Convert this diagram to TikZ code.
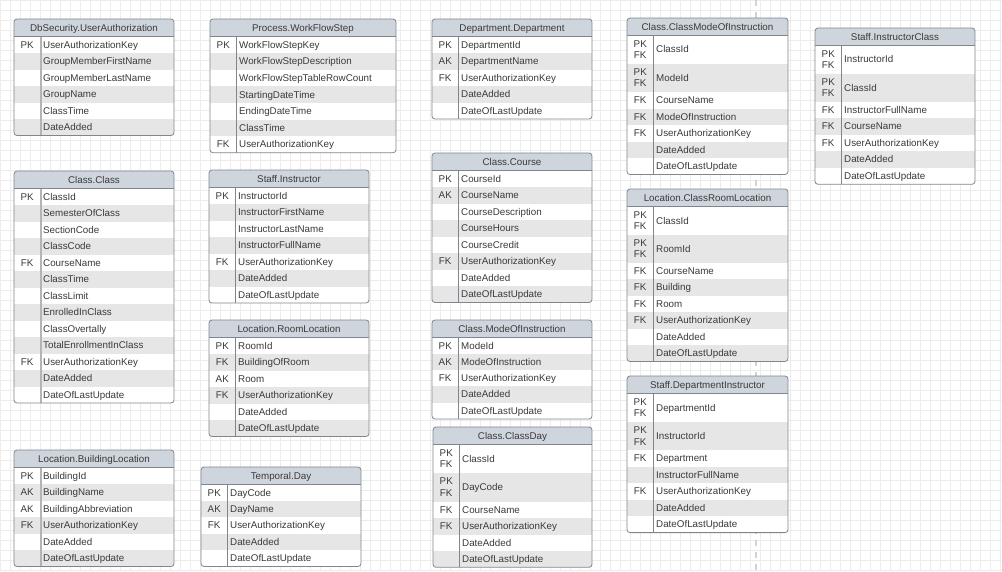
\documentclass[tikz,border=0pt]{standalone}
\usepackage{fontspec}
\setmainfont{Liberation Sans}
\definecolor{rowg}{HTML}{E6E6E6}
\definecolor{hdrc}{HTML}{CFD5DC}
\definecolor{bordc}{HTML}{80868D}
\definecolor{sepc}{HTML}{B4B4B4}
\definecolor{txtc}{HTML}{3A3A3A}
\definecolor{gridc}{HTML}{ECECEC}
\definecolor{pagec}{HTML}{D2D2D2}
\tikzset{
  border/.style={draw=bordc, line width=0.8pt},
  keytxt/.style={inner sep=0pt, align=center, text=txtc, font=\fontsize{9.8}{11.6}\selectfont},
  nametxt/.style={inner sep=0pt, anchor=base west, text=txtc, font=\fontsize{9.8}{11.6}\selectfont},
  titletxt/.style={inner sep=0pt, anchor=base, text=txtc, font=\fontsize{9.8}{11.6}\selectfont},
  sepline/.style={draw=bordc, line width=0.8pt},
  sepwide/.style={draw=sepc, line width=2pt},
  gridline/.style={draw=gridc, line width=0.6pt},
  pagebreak/.style={draw=pagec, line width=1.6pt, dash pattern=on 6pt off 6pt},
}
\def\erhead{17.5}
% \ertable[sepstyle]{id}{title}{x}{y}{width}{rows key/name/height}
\newcommand{\ertable}[7][sepline]{%
  \xdef\ertot{0}%
  \foreach \k/\n/\h in {#7}{\pgfmathsetmacro\ertmp{\ertot+\h}\xdef\ertot{\ertmp}}%
  \pgfmathsetmacro\erhd{#5+\erhead}%
  \pgfmathsetmacro\erbot{\erhd+\ertot}%
  \begin{scope}
    \clip[rounded corners=3pt] (#4,#5) rectangle (#4+#6,\erbot);
    \fill[hdrc] (#4,#5) rectangle (#4+#6,\erhd);
    \xdef\ercur{\erhd}%
    \foreach \k/\n/\h [count=\i] in {#7}{%
      \pgfmathsetmacro\erybot{\ercur+\h}%
      \ifodd\i\def\rowc{white}\else\def\rowc{rowg}\fi
      \fill[\rowc] (#4,\ercur) rectangle (#4+#6,\erybot);
      \node[keytxt] (#2-k\i) at ({#4+13.25},{(\ercur+\erybot)/2}) {\k};
      \node[nametxt] (#2-n\i) at ({#4+29},{(\ercur+\erybot)/2+3.4}) {\n};
      \xdef\ercur{\erybot}%
    }
  \end{scope}
  \draw[#1] (#4+26.5,\erhd) -- (#4+26.5,\erbot);
  \draw[border] (#4,\erhd) -- (#4+#6,\erhd);
  \draw[border, rounded corners=3pt] (#4,#5) rectangle (#4+#6,\erbot);
  \node[titletxt] (#2) at ({#4+#6/2},{#5+\erhead/2+3.4}) {#3};
}
\begin{document}
\begin{tikzpicture}[x=1pt,y=-1pt]
\fill[white] (0,0) rectangle (1002,571);
\useasboundingbox (0,0) rectangle (1002,571);
\foreach \gx in {0,10,...,1000} {\draw[gridline] (\gx,0) -- (\gx,571);}
\foreach \gy in {0,10,...,570} {\draw[gridline] (0,\gy) -- (1002,\gy);}
\coordinate (pbtop) at (756,0);
\coordinate (pbbot) at (756,571);
\draw[pagebreak] (pbtop) -- (pbbot);

\ertable[sepwide]{ua}{DbSecurity.UserAuthorization}{14}{19}{160}{PK/UserAuthorizationKey/16.5,{}/GroupMemberFirstName/16.5,{}/GroupMemberLastName/16.5,{}/GroupName/16.5,{}/ClassTime/16.5,{}/DateAdded/16.5}

\ertable{wfs}{Process.WorkFlowStep}{210}{19}{186}{PK/WorkFlowStepKey/16.6,{}/WorkFlowStepDescription/16.6,{}/WorkFlowStepTableRowCount/16.6,{}/StartingDateTime/16.6,{}/EndingDateTime/16.6,{}/ClassTime/16.6,FK/UserAuthorizationKey/16.6}

\ertable{dept}{Department.Department}{432}{19}{160}{PK/DepartmentId/16.5,AK/DepartmentName/16.5,FK/UserAuthorizationKey/16.5,{}/DateAdded/16.5,{}/DateOfLastUpdate/16.5}

\ertable{cmoi}{Class.ClassModeOfInstruction}{627}{18}{161}{{PK\\FK}/ClassId/28,{PK\\FK}/ModeId/28.5,FK/CourseName/16.5,FK/ModeOfInstruction/16.5,FK/UserAuthorizationKey/16.5,{}/DateAdded/16.5,{}/DateOfLastUpdate/16.5}

\ertable{ic}{Staff.InstructorClass}{815}{28}{160}{{PK\\FK}/InstructorId/28,{PK\\FK}/ClassId/28.3,FK/InstructorFullName/16.5,FK/CourseName/16.5,FK/UserAuthorizationKey/16.5,{}/DateAdded/16.5,{}/DateOfLastUpdate/16.5}

\ertable[sepwide]{cls}{Class.Class}{14}{171}{160}{PK/ClassId/16.5,{}/SemesterOfClass/16.5,{}/SectionCode/16.5,{}/ClassCode/16.5,FK/CourseName/16.5,{}/ClassTime/16.5,{}/ClassLimit/16.5,{}/EnrolledInClass/16.5,{}/ClassOvertally/16.5,{}/TotalEnrollmentInClass/16.5,FK/UserAuthorizationKey/16.5,{}/DateAdded/16.5,{}/DateOfLastUpdate/16.5}

\ertable{ins}{Staff.Instructor}{209}{170}{160}{PK/InstructorId/16.5,{}/InstructorFirstName/16.5,{}/InstructorLastName/16.5,{}/InstructorFullName/16.5,FK/UserAuthorizationKey/16.5,{}/DateAdded/16.5,{}/DateOfLastUpdate/16.5}

\ertable{rl}{Location.RoomLocation}{209}{320}{160}{PK/RoomId/16.5,FK/BuildingOfRoom/16.5,AK/Room/16.5,FK/UserAuthorizationKey/16.5,{}/DateAdded/16.5,{}/DateOfLastUpdate/16.5}

\ertable{crs}{Class.Course}{432}{153}{160}{PK/CourseId/16.5,AK/CourseName/16.5,{}/CourseDescription/16.5,{}/CourseHours/16.5,{}/CourseCredit/16.5,FK/UserAuthorizationKey/16.5,{}/DateAdded/16.5,{}/DateOfLastUpdate/16.5}

\ertable{moi}{Class.ModeOfInstruction}{432}{320}{160}{PK/ModeId/16.3,AK/ModeOfInstruction/16.3,FK/UserAuthorizationKey/16.3,{}/DateAdded/16.3,{}/DateOfLastUpdate/16.3}

\ertable{crl}{Location.ClassRoomLocation}{627}{189}{161}{{PK\\FK}/ClassId/28.3,{PK\\FK}/RoomId/27.7,FK/CourseName/16.5,FK/Building/16.5,FK/Room/16.5,FK/UserAuthorizationKey/16.5,{}/DateAdded/16.5,{}/DateOfLastUpdate/16.5}

\ertable{di}{Staff.DepartmentInstructor}{627}{376}{161}{{PK\\FK}/DepartmentId/28.3,{PK\\FK}/InstructorId/28.3,FK/Department/16.5,{}/InstructorFullName/16.5,FK/UserAuthorizationKey/16.5,{}/DateAdded/16.5,{}/DateOfLastUpdate/16.5}

\ertable[sepwide]{bl}{Location.BuildingLocation}{14}{450}{160}{PK/BuildingId/16.5,AK/BuildingName/16.5,AK/BuildingAbbreviation/16.5,FK/UserAuthorizationKey/16.5,{}/DateAdded/16.5,{}/DateOfLastUpdate/16.5}

\ertable{day}{Temporal.Day}{201}{467}{160}{PK/DayCode/16.4,AK/DayName/16.4,FK/UserAuthorizationKey/16.4,{}/DateAdded/16.4,{}/DateOfLastUpdate/16.4}

\ertable{cd}{Class.ClassDay}{433}{427}{159}{{PK\\FK}/ClassId/28.5,{PK\\FK}/DayCode/28.5,FK/CourseName/16.5,FK/UserAuthorizationKey/16.5,{}/DateAdded/16.5,{}/DateOfLastUpdate/16.3}
\end{tikzpicture}
\end{document}
